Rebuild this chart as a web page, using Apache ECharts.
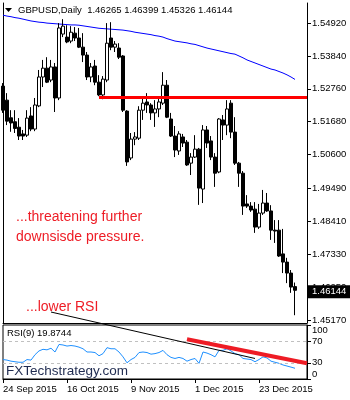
<!DOCTYPE html>
<html>
<head>
<meta charset="utf-8">
<script src="https://cdn.jsdelivr.net/npm/echarts@6/dist/echarts.min.js"></script>
<style>
html, body { margin: 0; padding: 0; background: #fff; }
#chart { width: 350px; height: 400px; }
</style>
</head>
<body>
<div id="chart"></div>
<script>
// Trading days (the last three slots are empty space on the right of the chart)
const dates = [
  '24 Sep 2015','25 Sep 2015','28 Sep 2015','29 Sep 2015','30 Sep 2015','1 Oct 2015','2 Oct 2015',
  '5 Oct 2015','6 Oct 2015','7 Oct 2015','8 Oct 2015','9 Oct 2015','12 Oct 2015','13 Oct 2015',
  '14 Oct 2015','15 Oct 2015','16 Oct 2015','19 Oct 2015','20 Oct 2015','21 Oct 2015','22 Oct 2015',
  '23 Oct 2015','26 Oct 2015','27 Oct 2015','28 Oct 2015','29 Oct 2015','30 Oct 2015','2 Nov 2015',
  '3 Nov 2015','4 Nov 2015','5 Nov 2015','6 Nov 2015','9 Nov 2015','10 Nov 2015','11 Nov 2015',
  '12 Nov 2015','13 Nov 2015','16 Nov 2015','17 Nov 2015','18 Nov 2015','19 Nov 2015','20 Nov 2015',
  '23 Nov 2015','24 Nov 2015','25 Nov 2015','26 Nov 2015','27 Nov 2015','30 Nov 2015','1 Dec 2015',
  '2 Dec 2015','3 Dec 2015','4 Dec 2015','7 Dec 2015','8 Dec 2015','9 Dec 2015','10 Dec 2015',
  '11 Dec 2015','14 Dec 2015','15 Dec 2015','16 Dec 2015','17 Dec 2015','18 Dec 2015','21 Dec 2015',
  '22 Dec 2015','23 Dec 2015','24 Dec 2015','28 Dec 2015','29 Dec 2015','30 Dec 2015','31 Dec 2015',
  '4 Jan 2016','5 Jan 2016','6 Jan 2016','7 Jan 2016','8 Jan 2016','11 Jan 2016','12 Jan 2016'
];

const open = [
  1.5285,1.5239,1.5181,1.5168,1.5150,1.5128,1.5124,1.5187,1.5144,1.5220,
  1.5315,1.5344,1.5305,1.5348,1.5246,1.5456,1.5446,1.5433,1.5459,1.5443,
  1.5413,1.5387,1.5315,1.5351,1.5298,1.5256,1.5305,1.5443,1.5413,1.5410,
  1.5384,1.5203,1.5049,1.5111,1.5114,1.5206,1.5233,1.5223,1.5197,1.5210,
  1.5229,1.5288,1.5177,1.5121,1.5072,1.5118,1.5101,1.5032,1.5052,1.5078,
  1.4947,1.5141,1.5105,1.5052,1.5003,1.5174,1.5157,1.5229,1.5134,1.5032,
  1.4999,1.4898,1.4891,1.4881,1.4822,1.4868,1.4901,1.4875,1.4812,1.4812,
  1.4734,1.4707,1.4671,1.46265
];
const high = [
  1.5295,1.5262,1.5206,1.5206,1.5180,1.5141,1.5206,1.5216,1.5246,1.5338,
  1.5371,1.5380,1.5371,1.5361,1.5492,1.5505,1.5485,1.5482,1.5479,1.5476,
  1.5459,1.5397,1.5361,1.5371,1.5321,1.5318,1.5492,1.5495,1.5433,1.5426,
  1.5387,1.5206,1.5131,1.5134,1.5219,1.5252,1.5262,1.5229,1.5239,1.5249,
  1.5331,1.5305,1.5197,1.5154,1.5137,1.5128,1.5108,1.5065,1.5124,1.5082,
  1.5157,1.5154,1.5121,1.5065,1.5180,1.5190,1.5239,1.5239,1.5183,1.5036,
  1.5006,1.4927,1.4904,1.4904,1.4898,1.4944,1.4934,1.4894,1.4845,1.4845,
  1.4816,1.4721,1.4681,1.46399
];
const low = [
  1.5197,1.5157,1.5135,1.5131,1.5108,1.5108,1.5118,1.5137,1.5137,1.5216,
  1.5282,1.5295,1.5298,1.5200,1.5239,1.5446,1.5426,1.5426,1.5433,1.5410,
  1.5364,1.5305,1.5298,1.5288,1.5252,1.5242,1.5298,1.5403,1.5397,1.5374,
  1.5200,1.5023,1.5042,1.5091,1.5108,1.5174,1.5197,1.5174,1.5151,1.5183,
  1.5223,1.5180,1.5118,1.5052,1.5059,1.5085,1.5023,1.4993,1.5049,1.4895,
  1.4901,1.5082,1.5042,1.4954,1.4999,1.5108,1.5124,1.5114,1.5026,1.4954,
  1.4862,1.4885,1.4872,1.4803,1.4816,1.4862,1.4872,1.4780,1.4770,1.4724,
  1.4671,1.4638,1.4606,1.45326
];
const close = [
  1.5206,1.5170,1.5164,1.5146,1.5121,1.5121,1.5180,1.5144,1.5223,1.5315,
  1.5344,1.5298,1.5348,1.5246,1.5476,1.5482,1.5430,1.5462,1.5443,1.5413,
  1.5387,1.5315,1.5348,1.5298,1.5256,1.5308,1.5426,1.5413,1.5423,1.5380,
  1.5206,1.5036,1.5111,1.5118,1.5206,1.5229,1.5223,1.5197,1.5210,1.5233,
  1.5288,1.5183,1.5121,1.5075,1.5128,1.5098,1.5026,1.5052,1.5078,1.4950,
  1.5141,1.5098,1.5052,1.4999,1.5177,1.5157,1.5210,1.5134,1.5032,1.4999,
  1.4891,1.4891,1.4878,1.4822,1.4868,1.4901,1.4875,1.4812,1.4809,1.4727,
  1.4707,1.4671,1.4625,1.46144
];

// Long moving average (blue)
const ma = [
  1.5518,1.5515,1.5513,1.5510,1.5508,1.5505,1.5502,1.5499,1.5497,1.5495,
  1.5494,1.5492,1.5491,1.5490,1.5489,1.5488,1.5487,1.5486,1.5486,1.5485,
  1.5483,1.5481,1.5479,1.5477,1.5475,1.5474,1.5473,1.5472,1.5471,1.5470,
  1.5469,1.5467,1.5465,1.5462,1.5460,1.5458,1.5456,1.5454,1.5451,1.5449,
  1.5446,1.5441,1.5437,1.5433,1.5431,1.5429,1.5427,1.5424,1.5422,1.5418,
  1.5414,1.5410,1.5407,1.5404,1.5401,1.5398,1.5395,1.5392,1.5390,1.5384,
  1.5378,1.5371,1.5366,1.5361,1.5356,1.5351,1.5346,1.5341,1.5338,1.5333,
  1.5328,1.5322,1.5315,1.5307
];

// RSI(9)
const rsi = [
  36,35,33,32,31,31,36,35,45,52,
  55,54,57,50,64,63,61,62,61,59,
  56,50,50,49,43,47,58,56,56,50,
  41,30,36,40,49,50,49,46,47,49,
  53,45,40,38,40,38,33,36,38,29,
  50,48,45,41,53,53,56,52,47,45,
  38,37,36,32,36,41,39,33,31,29,
  26,24,22,19.8744
];

const priceTicks = [1.45170, 1.46250, 1.47330, 1.48410, 1.49490, 1.50600, 1.51680, 1.52760, 1.53840, 1.54920];
const rsiTicks = [0, 30, 70, 100];
const rsiLevels = [30, 70];

// Horizontal resistance: [start bar, price]
const resistance = [24, 1.5250];
// Falling RSI trend line (red): [bar, rsi] pairs
const rsiTrend = [[46, 73.7], [76, 29.1]];
// Thin black line from the note down into the RSI window: start in price space, end in RSI space
const noteLineStart = [12, 1.4543];
const noteLineEnd = [63, 38];

const FONT = 'Liberation Sans, Arial, sans-serif';
const lastBar = close.length - 1;

const candles = close.map((c, i) => [open[i], c, low[i], high[i]]);

const chart = echarts.init(document.getElementById('chart'), null, { renderer: 'canvas' });

const option = {
  animation: false,
  backgroundColor: '#fff',
  textStyle: { fontFamily: FONT },
  grid: [
    { left: 3, right: 43, top: 3, bottom: 77 },
    { left: 3, right: 43, top: 325, bottom: 21, show: true, borderColor: '#000', borderWidth: 1 }
  ],
  xAxis: [
    {
      type: 'category', gridIndex: 0, data: dates, boundaryGap: false,
      axisLine: { show: true, lineStyle: { color: '#000', width: 1 } },
      axisTick: { show: false }, axisLabel: { show: false }, splitLine: { show: false }
    },
    {
      type: 'category', gridIndex: 1, data: dates, boundaryGap: false,
      axisLine: { show: true, lineStyle: { color: '#000', width: 1 } },
      axisTick: { show: true, interval: 15, length: 4, inside: false, lineStyle: { color: '#000' } },
      axisLabel: {
        show: true, interval: 15, align: 'left', margin: 5, color: '#000',
        fontSize: 9.5, fontFamily: FONT, hideOverlap: false
      },
      splitLine: { show: false }
    }
  ],
  yAxis: [
    {
      type: 'value', gridIndex: 0, position: 'right', min: 1.4507, max: 1.5558, scale: true,
      axisLine: { show: true, onZero: false, lineStyle: { color: '#000', width: 1 } },
      axisTick: { show: true, length: 4, customValues: priceTicks, lineStyle: { color: '#000' } },
      axisLabel: {
        show: true, margin: 5, color: '#000', fontSize: 9.5, fontFamily: FONT,
        customValues: priceTicks, formatter: v => v.toFixed(5)
      },
      splitLine: { show: false }
    },
    {
      type: 'value', gridIndex: 0, position: 'left', min: 1.4507, max: 1.5558,
      axisLine: { show: true, onZero: false, lineStyle: { color: '#000', width: 1 } },
      axisTick: { show: false }, axisLabel: { show: false }, splitLine: { show: false }
    },
    {
      type: 'value', gridIndex: 1, position: 'right', min: 0, max: 100,
      axisLine: { show: true, onZero: false, lineStyle: { color: '#000', width: 1 } },
      axisTick: { show: true, length: 4, customValues: rsiTicks, lineStyle: { color: '#000' } },
      axisLabel: {
        show: true, margin: 5, color: '#000', fontSize: 9.5, fontFamily: FONT,
        customValues: rsiTicks,
        verticalAlignMaxLabel: 'top', verticalAlignMinLabel: 'bottom'
      },
      splitLine: { show: false }
    }
  ],
  series: [
    {
      name: 'MA', type: 'line', xAxisIndex: 0, yAxisIndex: 0, data: ma,
      symbol: 'none', lineStyle: { color: '#0000ff', width: 1 }, z: 2, silent: true
    },
    {
      name: 'GBPUSD', type: 'candlestick', xAxisIndex: 0, yAxisIndex: 0, data: candles,
      barWidth: 3, z: 3, silent: true,
      itemStyle: { color: '#fff', color0: '#000', borderColor: '#000', borderColor0: '#000', borderWidth: 1 },
      markLine: {
        silent: true, symbol: ['none', 'none'], animation: false,
        data: [
          [
            { coord: [resistance[0], resistance[1]] },
            { coord: [dates.length - 1, resistance[1]] }
          ],
          {
            yAxis: close[lastBar],
            lineStyle: { color: 'rgba(0,0,0,0)', width: 0 },
            label: {
              show: true, position: 'end', distance: 1, offset: [0, -3],
              formatter: () => close[lastBar].toFixed(5),
              backgroundColor: '#000', color: '#fff', fontSize: 9.5, fontFamily: FONT,
              padding: [2, 4, 1, 4], opacity: 1
            }
          }
        ],
        lineStyle: { color: '#ff0000', width: 3, type: 'solid' },
        label: { show: false }
      }
    },
    {
      name: 'RSI', type: 'line', xAxisIndex: 1, yAxisIndex: 2, data: rsi,
      symbol: 'none', lineStyle: { color: '#1e90ff', width: 1 }, z: 3, silent: true,
      markLine: {
        silent: true, symbol: ['none', 'none'], animation: false,
        label: { show: false },
        data: rsiLevels.map(v => ({ yAxis: v, lineStyle: { color: '#c0c0c0', type: [3, 3], width: 1 } }))
          .concat([[
            { coord: rsiTrend[0], lineStyle: { color: '#ee1c25', width: 4, type: 'solid' } },
            { coord: rsiTrend[1] }
          ]])
      }
    }
  ]
};

chart.setOption(option);

// Annotations and the slanted note line that crosses both windows
const p0 = chart.convertToPixel({ xAxisIndex: 0, yAxisIndex: 0 }, noteLineStart);
const p1 = chart.convertToPixel({ xAxisIndex: 1, yAxisIndex: 2 }, noteLineEnd);
const headline = 'GBPUSD,Daily  ' + [open[lastBar], high[lastBar], low[lastBar], close[lastBar]].map(v => v.toFixed(5)).join(' ');
const noteColor = '#ee1c25';

chart.setOption({
  graphic: [
    { type: 'polygon', shape: { points: [[5, 8], [12, 8], [8.5, 12]] }, style: { fill: '#000' }, silent: true },
    { type: 'text', x: 18, y: 10, style: { text: headline, fill: '#000', font: '9.5px ' + FONT, verticalAlign: 'middle' }, silent: true },
    { type: 'text', x: 16, y: 217, style: { text: '...threatening further', fill: noteColor, font: '14px ' + FONT, verticalAlign: 'middle' }, silent: true },
    { type: 'text', x: 16, y: 237, style: { text: 'downsisde pressure.', fill: noteColor, font: '14px ' + FONT, verticalAlign: 'middle' }, silent: true },
    { type: 'text', x: 26, y: 307, style: { text: '...lower RSI', fill: noteColor, font: '14px ' + FONT, verticalAlign: 'middle' }, silent: true },
    { type: 'text', x: 7, y: 333, style: { text: 'RSI(9) ' + rsi[lastBar].toFixed(4), fill: '#000', font: '9.5px ' + FONT, verticalAlign: 'middle' }, silent: true },
    { type: 'text', x: 6, y: 371, style: { text: 'FXTechstrategy.com', fill: '#1f2b50', font: '13.5px ' + FONT, verticalAlign: 'middle' }, silent: true, z: 10 },
    { type: 'line', shape: { x1: p0[0], y1: p0[1], x2: p1[0], y2: p1[1] }, style: { stroke: '#000', lineWidth: 1 }, silent: true, z: 10 }
  ]
});
</script>
</body>
</html>
